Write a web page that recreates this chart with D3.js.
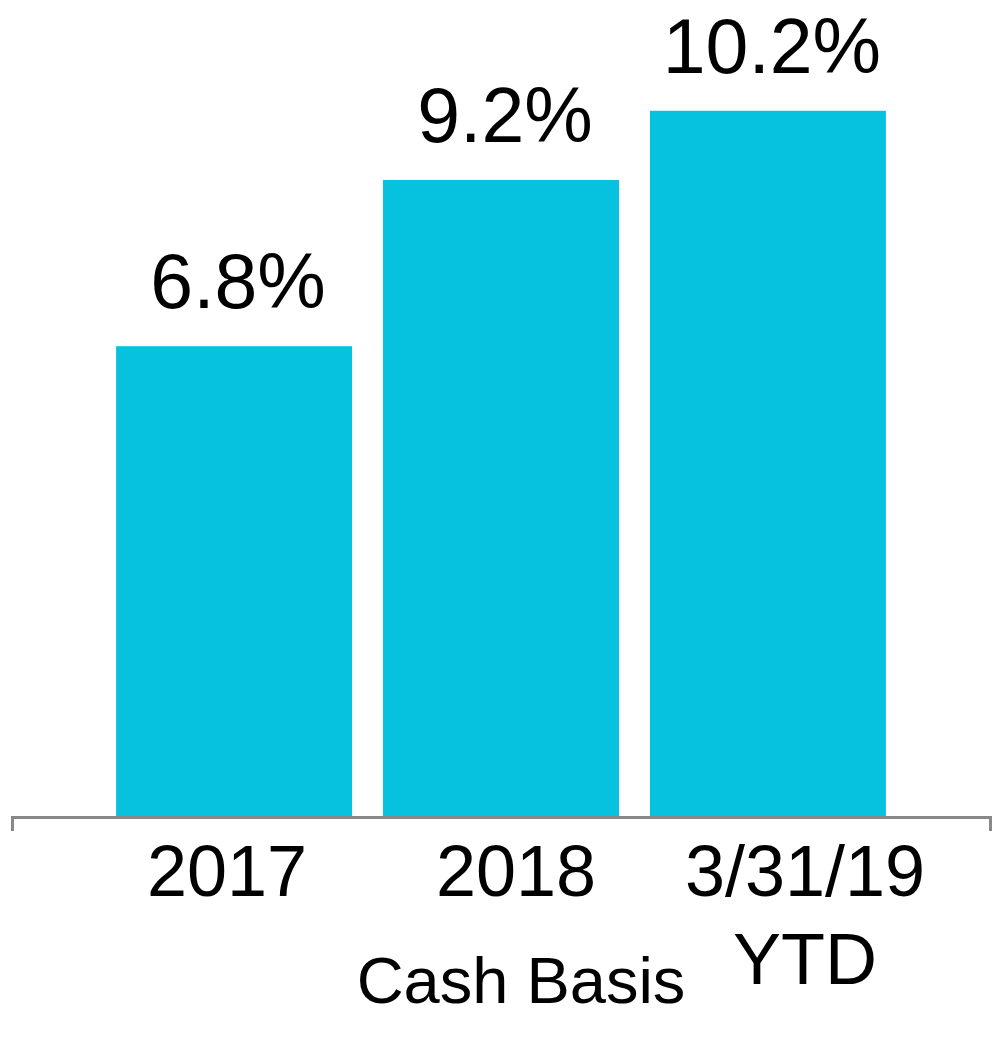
<!DOCTYPE html>
<html>
<head>
<meta charset="utf-8">
<script src="https://cdn.jsdelivr.net/npm/d3@7"></script>
<style>
  body { margin: 0; background: #fff; }
  svg { display: block; font-family: "Liberation Sans", Arial, sans-serif; }
</style>
</head>
<body>
<svg width="1000" height="1037"></svg>
<script>
var categories = ["2017", "2018", "3/31/19"];
var tickLines = [["2017"], ["2018"], ["3/31/19", "YTD"]];
var values = [6.8, 9.2, 10.2];
var axisTitle = "Cash Basis";

var svg = d3.select("svg");
var baseY = 817;

var x = d3.scaleBand()
	.domain(categories)
	.range([12, 990])
	.paddingInner(0.116)
	.paddingOuter(0.39);

var y = d3.scaleLinear()
	.domain([0, 11.8])
	.range([baseY, 0]);

// labels below the axis sit a bit wider than the bars
var xLabel = d3.scalePoint()
	.domain(categories)
	.range([227, 805]);

svg.selectAll(".bar")
	.data(values)
	.enter()
	.append("rect")
	.attr("class", "bar")
	.attr("x", function(d, i) { return x(categories[i]); })
	.attr("y", function(d) { return y(d); })
	.attr("width", x.bandwidth())
	.attr("height", function(d) { return baseY - y(d); })
	.style("fill", "#06c2de");

svg.selectAll(".value")
	.data(values)
	.enter()
	.append("text")
	.attr("class", "value")
	.attr("x", function(d, i) { return x(categories[i]) + x.bandwidth() / 2 + 4; })
	.attr("y", function(d) { return y(d) - 38; })
	.attr("text-anchor", "middle")
	.style("font-size", "77px")
	.style("fill", "#000")
	.text(function(d) { return d.toFixed(1) + "%"; });

var axis = svg.append("g")
	.attr("transform", "translate(0," + baseY + ")")
	.call(d3.axisBottom(x).tickSizeInner(0).tickSizeOuter(14).tickFormat(""));

axis.select(".domain")
	.attr("stroke", "#888")
	.attr("stroke-width", 3);
axis.selectAll(".tick").remove();

var tick = svg.selectAll(".ticklabel")
	.data(tickLines)
	.enter()
	.append("text")
	.attr("class", "ticklabel")
	.attr("text-anchor", "middle")
	.style("font-size", "72px")
	.style("fill", "#000");

tick.selectAll("tspan")
	.data(function(d, i) { return d.map(function(t) { return {t: t, c: categories[i]}; }); })
	.enter()
	.append("tspan")
	.attr("x", function(d) { return xLabel(d.c); })
	.attr("y", function(d, j) { return 896 + j * 88; })
	.text(function(d) { return d.t; });

svg.append("text")
	.attr("x", 521)
	.attr("y", 1003)
	.attr("text-anchor", "middle")
	.style("font-size", "65px")
	.style("fill", "#000")
	.text(axisTitle);
</script>
</body>
</html>
